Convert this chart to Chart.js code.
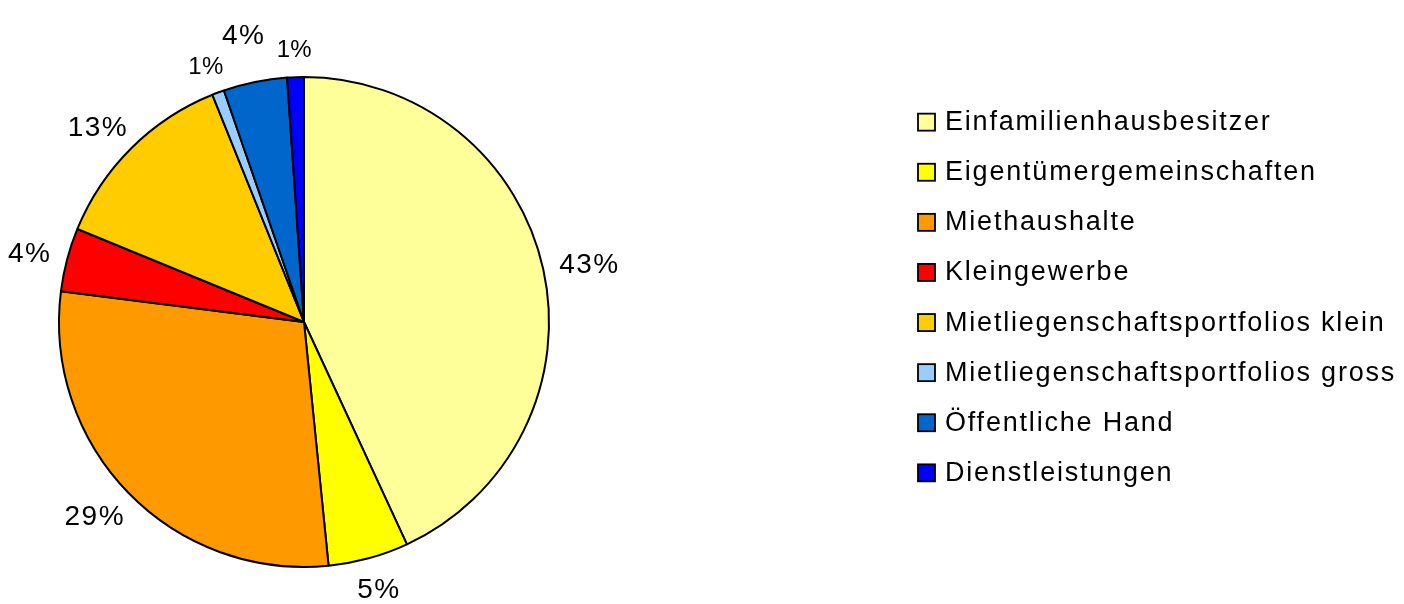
<!DOCTYPE html>
<html><head><meta charset="utf-8">
<script src="https://cdn.jsdelivr.net/npm/chart.js@4/dist/chart.umd.min.js"></script>
<style>html,body{margin:0;padding:0;background:#fff;overflow:hidden}#wrap{width:1404px;height:604px;position:relative}</style>
</head><body><div id="wrap"><canvas id="c"></canvas></div>
<script>
const categories = ['Einfamilienhausbesitzer','Eigentümergemeinschaften','Miethaushalte','Kleingewerbe','Mietliegenschaftsportfolios klein','Mietliegenschaftsportfolios gross','Öffentliche Hand','Dienstleistungen'];
const shares = [43.1, 5.3, 28.6, 4.2, 12.7, 0.8, 4.2, 1.1];
const shareLabels = ['43%','5%','29%','4%','13%','1%','4%','1%'];
const sliceColors = ['#FFFF99','#FFFF00','#FF9900','#FF0000','#FFCC00','#99CCFF','#0066CC','#0000FF'];

const FONT = '"Liberation Sans", Arial, Helvetica, sans-serif';

const pctLabels = {
  id: 'pctLabels',
  afterDatasetsDraw(chart) {
    const ctx = chart.ctx;
    const meta = chart.getDatasetMeta(0);
    const gap = 17, mx = 6, my = 12;
    const placed = [];
    ctx.save();
    ctx.fillStyle = '#000';
    ctx.textAlign = 'center';
    ctx.textBaseline = 'alphabetic';
    meta.data.forEach((arc, i) => {
      const p = arc.getProps(['x','y','startAngle','endAngle','outerRadius'], true);
      const a = (p.startAngle + p.endAngle) / 2;
      const ux = Math.cos(a), uy = Math.sin(a);
      const v = chart.data.datasets[0].data[i];
      const small = v < 2;
      const fs = small ? 24 : 28;
      ctx.font = fs + 'px ' + FONT;
      ctx.letterSpacing = small ? '0.3px' : '1.5px';
      const w = ctx.measureText(shareLabels[i]).width;
      const h = fs;
      const ch = 0.72 * fs;
      let r = p.outerRadius + gap;
      let cx, cy, box;
      for (let k = 0; k < 60; k++) {
        cx = p.x + r * ux + ux * w / 2;
        cy = p.y + r * uy + uy * h / 2;
        box = {l: cx - w / 2, r: cx + w / 2, t: cy - ch / 2, b: cy + ch / 2};
        const hit = placed.some(q => box.l < q.r + mx && box.r > q.l - mx && box.t < q.b + my && box.b > q.t - my);
        if (!hit) break;
        r += 1;
      }
      placed.push(box);
      ctx.fillText(shareLabels[i], cx, cy + ch / 2);
    });
    ctx.restore();
  }
};

const sideLegend = {
  id: 'sideLegend',
  afterDraw(chart) {
    const ctx = chart.ctx;
    const ds = chart.data.datasets[0];
    const step = 50.1;
    const n = chart.data.labels.length;
    const y0 = 296 - (n - 1) / 2 * step;
    ctx.save();
    ctx.font = '27px ' + FONT;
    ctx.letterSpacing = '1.8px';
    ctx.textAlign = 'left';
    ctx.textBaseline = 'alphabetic';
    chart.data.labels.forEach((lab, i) => {
      const y = y0 + i * step;
      ctx.fillStyle = ds.backgroundColor[i];
      ctx.fillRect(918, y - 7, 17, 17);
      ctx.lineWidth = 1.8;
      ctx.strokeStyle = '#000';
      ctx.strokeRect(918, y - 7, 17, 17);
      ctx.fillStyle = '#000';
      ctx.fillText(lab, 945, y + 9.5);
    });
    ctx.restore();
  }
};

new Chart(document.getElementById('c'), {
  type: 'pie',
  data: {
    labels: categories,
    datasets: [{
      data: shares,
      backgroundColor: sliceColors,
      borderColor: '#000',
      borderWidth: 2,
      borderAlign: 'center'
    }]
  },
  options: {
    responsive: true,
    maintainAspectRatio: false,
    animation: false,
    events: [],
    layout: { padding: { left: 0, right: 796, top: 76, bottom: 36 } },
    plugins: {
      legend: { display: false },
      tooltip: { enabled: false },
      title: { display: false }
    }
  },
  plugins: [pctLabels, sideLegend]
});
</script>
</body></html>
